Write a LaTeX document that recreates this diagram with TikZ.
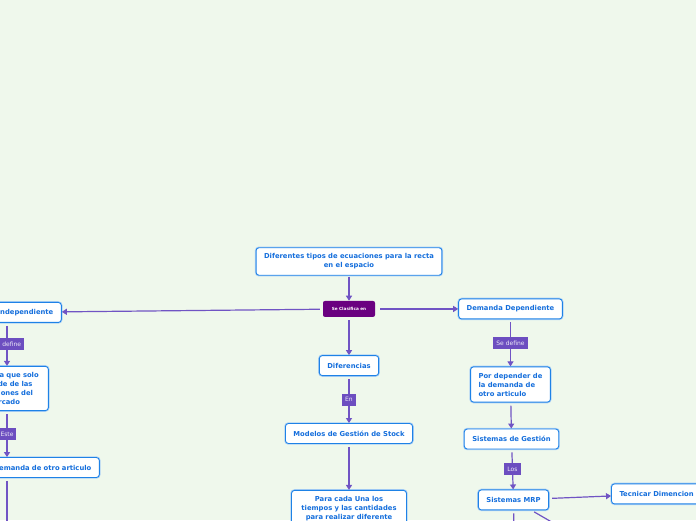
\documentclass[tikz,border=0pt]{standalone}
\usepackage{fontspec}
\setmainfont{DejaVu Sans}
\usetikzlibrary{positioning,arrows.meta}
\definecolor{bgc}{RGB}{239,248,236}
\definecolor{boxline}{RGB}{30,130,230}
\definecolor{boxglow}{RGB}{175,210,245}
\definecolor{boxtext}{RGB}{20,110,220}
\definecolor{linkc}{RGB}{112,84,196}
\definecolor{tagc}{RGB}{108,78,192}
\definecolor{rootc}{RGB}{106,0,128}
\begin{document}
\begin{tikzpicture}[x=1pt, y=1pt,
	main/.style = {draw=boxline, line width=0.9pt, fill=white, rounded corners=3pt, text=boxtext, font=\fontsize{6.8}{9}\selectfont\bfseries, inner xsep=8pt, inner ysep=6pt, minimum height=20pt, preaction={draw=boxglow, line width=2.4pt}},
	root/.style = {fill=rootc, rounded corners=2pt, text=white, font=\fontsize{4.2}{5}\selectfont\bfseries, minimum width=52pt, minimum height=16pt},
	tag/.style = {fill=tagc, text=white!88!tagc, font=\fontsize{6}{7}\selectfont, inner xsep=3pt, inner ysep=2pt, minimum height=12pt},
	link/.style = {draw=linkc, line width=1.2pt, -{Triangle[width=6pt,length=5pt]}, shorten <=3pt}]
			\fill[bgc] (0,0) rectangle (696,-520);
			\useasboundingbox (0,0) rectangle (696,-520);
			\node[main, align=center] (1) at (349,-261.5) {Diferentes tipos de ecuaciones para la recta\\en el espacio};
			\node[root] (2) [below=25pt of 1] {Se Clasifica en};
			\node[main] (3) [below=38pt of 2] {Diferencias};
			\node[main] (4) [below=47pt of 3] {Modelos de Gestión de Stock};
			\node[main, text width=99pt, align=center, text depth=40pt] (5) [below=46pt of 4] {Para cada Una los\\tiempos y las cantidades\\para realizar diferente};
			\node[main] (6) [right=83pt of 2] {Demanda Dependiente};
			\node[main, align=left] (7) [below=47pt of 6] {Por depender de\\la demanda de\\otro articulo};
			\node[main] (8) [below=26pt of 7, xshift=1pt] {Sistemas de Gestión};
			\node[main] (9) [below=40pt of 8, xshift=2pt] {Sistemas MRP};
			\node[main, text width=84pt, align=left] (10) [right=62pt of 9, yshift=6pt] {Tecnicar Dimencion};
			\node[main, text width=100pt, align=right] (11) [left=261pt of 2, yshift=-3.5pt] {Demanda Independiente};
			\node[main, text width=74pt, align=center] (12) [below=43pt of 11] {Demanda que solo\\depende de las\\condiciones del\\mercado};
			\node[main, text width=176pt, align=right] (13) [below=46pt of 12] {Demanda de otro articulo};
			% left branch runs down at x=7
			\coordinate (c0) at (7,0);
			\coordinate (c1) at (514,-545);
			\coordinate (c2) at (568,-531.5);
			\coordinate (c3) at (7,-545);
			\draw[link, shorten <=1pt] (1) -- (2);
			\draw[link, shorten <=5pt] (2) -- (6);
			\draw[link] (2) -- (11);
			\draw[link] (2) -- (3);
			\draw[link] (3) -- node[tag] {En} (4);
			\draw[link] (4) -- (5);
			\draw[link] (6) -- node[tag] {Se define} (7);
			\draw[link] (7) -- (8);
			\draw[link] (8) -- node[tag] {Los} (9);
			\draw[link] (9) -- (10);
			\draw[link] (9) -- (c1);
			\draw[link] (9) -- (c2);
			\draw[link] (11.south -| c0) -- node[tag] {Se define} (12.north -| c0);
			\draw[link] (12.south -| c0) -- node[tag] {Este} (13.north -| c0);
			\draw[link] (13.south -| c0) -- (c3);
		\end{tikzpicture}
\end{document}
